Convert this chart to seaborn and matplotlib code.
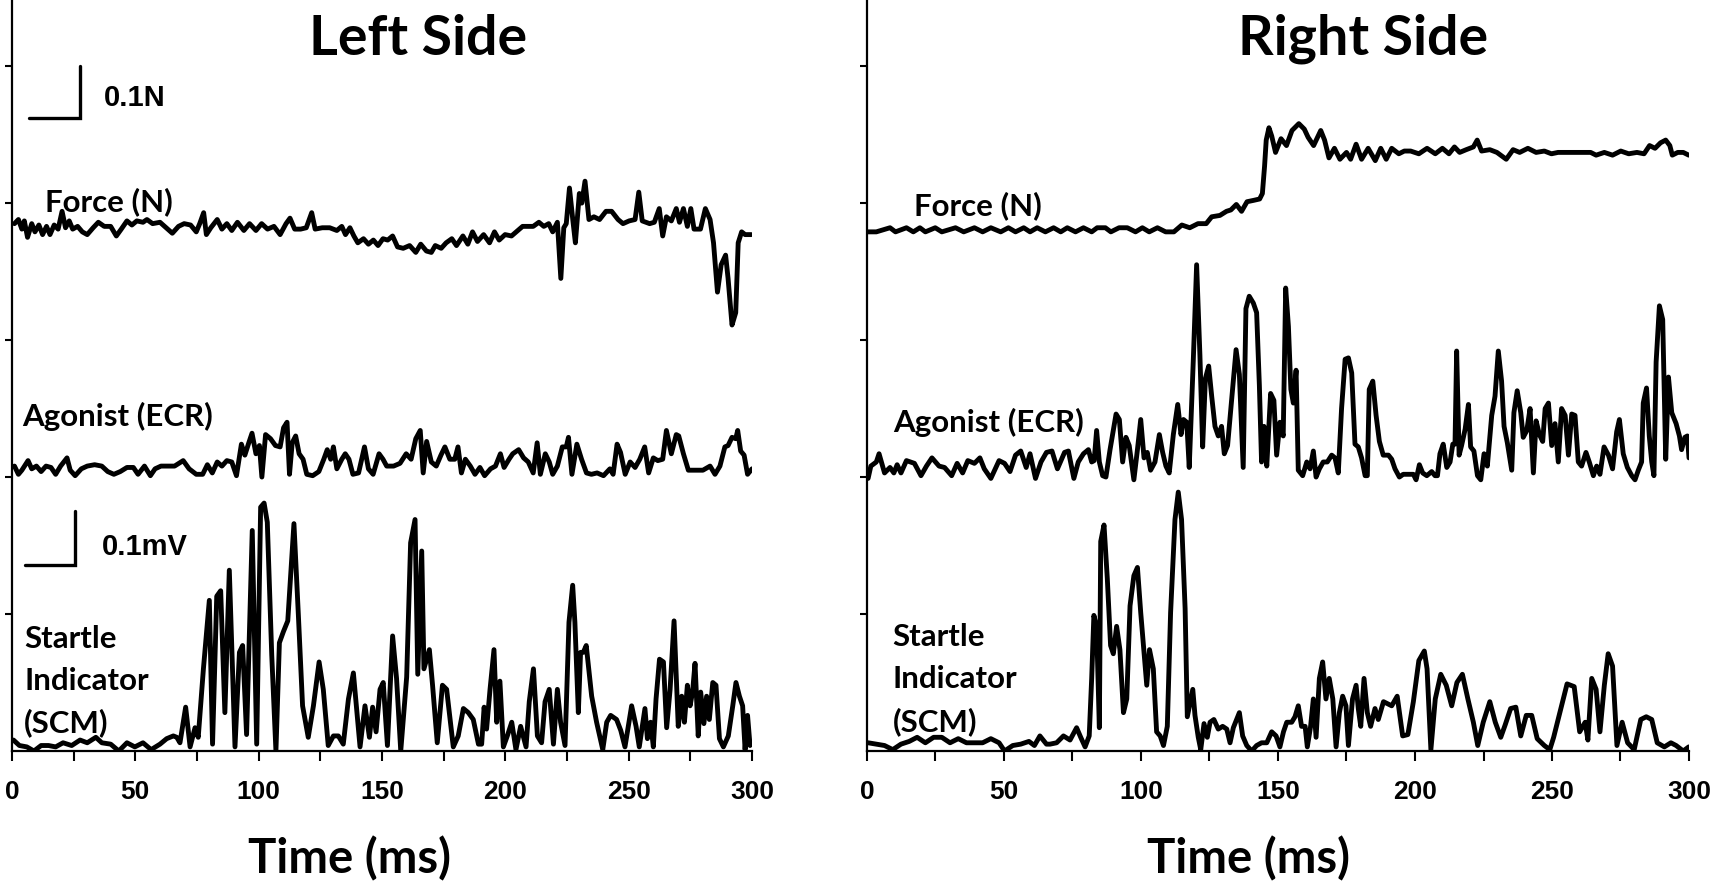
import matplotlib
matplotlib.use("Agg")
import seaborn as sns
from matplotlib import pyplot as plt
from matplotlib.ticker import MultipleLocator

# ---- data (trace values in plot units, one y tick = 1 unit) ----
left_force_t = [1.0, 2.6, 4.0, 5.0, 6.3, 8.0, 9.3, 10.9, 12.4, 14.0, 15.4, 17.1, 18.7, 20.3, 21.7, 23.2, 24.6, 26.6, 28.5, 30.5,
                32.9, 35.0, 37.4, 40.0, 42.3, 44.3, 46.6, 48.6, 50.6, 53.1, 54.7, 57.0, 60.0, 62.5, 65.0, 67.5, 69.8, 72.4, 74.7, 76.1,
                77.7, 78.8, 80.6, 83.2, 85.1, 87.1, 89.1, 91.4, 94.0, 96.3, 98.9, 101.2, 103.6, 106.2, 108.7, 111.1, 112.7, 114.6, 117.0, 119.3,
                121.5, 122.9, 125.8, 128.8, 131.7, 133.7, 135.2, 137.0, 138.6, 140.2, 142.5, 144.5, 146.5, 148.4, 150.4, 152.3, 154.3, 156.3, 158.6, 161.2,
                163.7, 165.7, 168.0, 170.0, 171.6, 174.0, 176.0, 178.3, 180.2, 182.8, 184.8, 186.7, 188.7, 191.2, 193.6, 195.6, 197.5, 199.9, 202.5, 204.4,
                207.0, 209.3, 211.3, 213.6, 215.6, 217.6, 219.2, 221.1, 222.5, 223.7, 224.7, 226.0, 227.4, 228.4, 230.0, 231.0, 232.3, 233.9, 235.9, 238.2,
                240.8, 243.1, 245.7, 247.7, 250.2, 252.6, 254.1, 255.5, 258.5, 260.4, 262.4, 263.8, 265.3, 267.3, 269.3, 270.6, 272.2, 273.8, 275.2, 276.5,
                279.1, 281.1, 283.0, 284.4, 286.0, 287.5, 289.3, 290.3, 291.9, 293.4, 294.4, 295.8, 297.2, 299.7]
left_force_v = [3.85, 3.88, 3.81, 3.87, 3.75, 3.85, 3.79, 3.84, 3.77, 3.83, 3.77, 3.84, 3.81, 3.94, 3.82, 3.87, 3.81, 3.83, 3.79, 3.77,
                3.82, 3.86, 3.83, 3.83, 3.76, 3.81, 3.87, 3.84, 3.87, 3.86, 3.88, 3.85, 3.86, 3.82, 3.78, 3.83, 3.85, 3.84, 3.79, 3.85,
                3.93, 3.77, 3.82, 3.88, 3.81, 3.85, 3.80, 3.86, 3.80, 3.85, 3.80, 3.85, 3.81, 3.83, 3.77, 3.85, 3.89, 3.81, 3.81, 3.82,
                3.93, 3.81, 3.82, 3.82, 3.80, 3.83, 3.77, 3.82, 3.76, 3.71, 3.74, 3.70, 3.73, 3.69, 3.74, 3.73, 3.76, 3.68, 3.67, 3.69,
                3.64, 3.70, 3.65, 3.64, 3.69, 3.67, 3.71, 3.74, 3.69, 3.76, 3.70, 3.79, 3.72, 3.77, 3.71, 3.79, 3.73, 3.77, 3.76, 3.79,
                3.83, 3.83, 3.83, 3.86, 3.83, 3.85, 3.79, 3.86, 3.45, 3.82, 3.85, 4.11, 3.87, 3.71, 4.07, 4.00, 4.16, 3.88, 3.90, 3.88,
                3.94, 3.94, 3.88, 3.85, 3.87, 3.88, 4.08, 3.87, 3.85, 3.86, 3.96, 3.76, 3.90, 3.87, 3.96, 3.86, 3.96, 3.83, 3.96, 3.81,
                3.81, 3.96, 3.88, 3.71, 3.35, 3.55, 3.62, 3.45, 3.11, 3.20, 3.71, 3.79, 3.77, 3.77]

left_agonist_t = [1.0, 2.6, 4.0, 6.5, 8.0, 9.9, 11.8, 13.8, 15.8, 17.7, 19.7, 22.3, 23.6, 25.6, 28.1, 30.5, 33.5, 36.4, 38.8, 41.3,
                  43.9, 46.6, 49.2, 51.1, 53.7, 56.1, 58.0, 60.4, 62.9, 65.9, 69.4, 71.8, 74.7, 77.3, 79.2, 81.2, 83.2, 85.1, 87.1, 89.1,
                  91.0, 93.0, 94.4, 96.0, 97.3, 98.9, 100.3, 101.3, 102.8, 104.8, 106.8, 108.7, 110.1, 111.5, 112.5, 113.6, 115.0, 116.4, 118.0, 119.5,
                  121.9, 124.4, 126.4, 127.8, 129.2, 130.3, 131.7, 133.7, 135.1, 136.6, 138.2, 140.5, 142.9, 144.5, 146.4, 148.8, 150.4, 151.9, 154.7, 157.3,
                  159.8, 161.8, 163.7, 165.5, 166.7, 168.1, 170.0, 172.0, 173.9, 175.5, 177.5, 179.5, 180.8, 182.2, 183.8, 185.8, 187.7, 189.7, 191.6, 194.0,
                  196.0, 198.0, 199.5, 201.5, 203.0, 205.4, 207.4, 209.3, 211.3, 212.9, 214.2, 216.2, 217.8, 219.2, 221.1, 223.1, 224.7, 225.6, 227.0, 229.0,
                  230.9, 232.9, 234.9, 237.2, 239.8, 242.4, 243.7, 245.3, 246.7, 248.6, 250.6, 252.6, 254.5, 256.5, 258.1, 260.0, 261.8, 263.8, 265.3, 267.3,
                  269.3, 270.3, 272.2, 274.2, 277.1, 280.1, 283.0, 285.0, 287.0, 289.0, 290.3, 291.9, 293.4, 294.2, 295.4, 296.8, 298.2, 300.0]
left_agonist_v = [2.08, 2.02, 2.05, 2.12, 2.06, 2.08, 2.04, 2.08, 2.07, 2.02, 2.08, 2.14, 2.05, 2.01, 2.06, 2.08, 2.09, 2.08, 2.04, 2.02,
                  2.04, 2.07, 2.07, 2.02, 2.08, 2.01, 2.06, 2.08, 2.08, 2.08, 2.12, 2.06, 2.02, 2.02, 2.09, 2.03, 2.11, 2.08, 2.12, 2.11,
                  2.01, 2.24, 2.16, 2.25, 2.32, 2.17, 2.23, 2.00, 2.31, 2.28, 2.23, 2.22, 2.36, 2.40, 2.02, 2.25, 2.30, 2.17, 2.13, 2.02,
                  2.01, 2.04, 2.13, 2.20, 2.13, 2.22, 2.06, 2.13, 2.17, 2.13, 2.02, 2.03, 2.22, 2.06, 2.02, 2.17, 2.13, 2.08, 2.08, 2.10,
                  2.17, 2.13, 2.28, 2.34, 2.03, 2.26, 2.11, 2.08, 2.16, 2.22, 2.13, 2.13, 2.22, 2.03, 2.13, 2.08, 2.02, 2.07, 2.01, 2.06,
                  2.08, 2.17, 2.07, 2.13, 2.17, 2.20, 2.14, 2.11, 2.03, 2.25, 2.02, 2.17, 2.11, 2.02, 2.08, 2.22, 2.22, 2.29, 2.02, 2.24,
                  2.13, 2.03, 2.02, 2.03, 2.01, 2.06, 2.02, 2.24, 2.18, 2.02, 2.11, 2.07, 2.13, 2.22, 2.03, 2.14, 2.12, 2.13, 2.34, 2.17,
                  2.31, 2.30, 2.17, 2.05, 2.05, 2.05, 2.08, 2.02, 2.08, 2.22, 2.23, 2.29, 2.28, 2.34, 2.19, 2.16, 2.02, 2.06]

left_startle_t = [0.6, 3.0, 6.0, 8.9, 11.8, 14.8, 17.7, 20.7, 24.2, 27.6, 30.5, 34.0, 36.4, 40.0, 43.3, 46.6, 49.8, 53.1, 56.4, 60.0,
                  62.7, 65.4, 66.8, 68.1, 70.4, 72.2, 74.2, 75.5, 77.6, 80.0, 81.3, 83.0, 84.6, 86.3, 88.1, 90.4, 92.2, 93.5, 95.1, 97.4,
                  99.2, 100.8, 102.2, 103.5, 105.3, 107.0, 108.4, 110.0, 111.8, 114.3, 116.1, 117.8, 120.1, 122.2, 124.5, 126.2, 128.2, 130.3, 132.3, 134.3,
                  136.4, 138.4, 141.1, 143.1, 144.9, 146.2, 147.6, 149.2, 150.5, 152.2, 154.3, 155.9, 157.6, 160.0, 161.6, 163.4, 164.5, 166.1, 167.0, 169.2,
                  170.5, 172.4, 174.5, 176.2, 178.9, 180.9, 183.0, 185.0, 187.0, 189.1, 190.4, 191.4, 192.4, 193.8, 195.4, 196.5, 197.8, 199.2, 200.8, 202.6,
                  204.3, 206.2, 208.4, 209.7, 211.4, 213.0, 214.7, 216.1, 217.8, 219.5, 221.1, 222.4, 224.2, 225.8, 227.3, 228.2, 229.6, 230.5, 231.6, 232.8,
                  235.0, 237.0, 239.5, 241.1, 242.7, 245.1, 246.8, 248.5, 251.2, 253.0, 254.3, 256.6, 257.6, 258.9, 260.0, 261.1, 262.5, 264.1, 265.4, 266.8,
                  268.4, 270.1, 271.5, 272.6, 273.8, 274.9, 275.9, 276.9, 278.2, 279.2, 280.5, 281.6, 282.7, 284.1, 285.4, 286.8, 288.4, 290.4, 292.2, 293.5,
                  294.9, 296.2, 297.2, 298.2, 299.2, 300.0]
left_startle_v = [0.08, 0.04, 0.03, 0.00, 0.04, 0.04, 0.03, 0.06, 0.04, 0.08, 0.06, 0.10, 0.06, 0.05, 0.00, 0.06, 0.03, 0.06, 0.01, 0.05,
                  0.09, 0.11, 0.10, 0.06, 0.32, 0.03, 0.17, 0.10, 0.60, 1.10, 0.05, 1.13, 1.17, 0.28, 1.32, 0.03, 0.72, 0.77, 0.12, 1.61,
                  0.05, 1.78, 1.81, 1.67, 0.70, 0.00, 0.79, 0.87, 0.95, 1.66, 0.99, 0.33, 0.10, 0.33, 0.65, 0.45, 0.04, 0.11, 0.11, 0.05,
                  0.38, 0.57, 0.03, 0.33, 0.10, 0.32, 0.14, 0.45, 0.50, 0.04, 0.84, 0.53, 0.00, 0.54, 1.52, 1.69, 0.56, 1.46, 0.60, 0.74,
                  0.48, 0.06, 0.48, 0.45, 0.03, 0.11, 0.31, 0.28, 0.23, 0.05, 0.05, 0.32, 0.16, 0.45, 0.74, 0.21, 0.51, 0.03, 0.11, 0.21,
                  0.01, 0.18, 0.03, 0.36, 0.60, 0.11, 0.06, 0.36, 0.45, 0.05, 0.45, 0.21, 0.04, 0.94, 1.21, 0.94, 0.28, 0.72, 0.72, 0.77,
                  0.40, 0.21, 0.01, 0.21, 0.26, 0.23, 0.15, 0.03, 0.33, 0.18, 0.03, 0.31, 0.09, 0.21, 0.03, 0.38, 0.67, 0.65, 0.17, 0.45,
                  0.95, 0.18, 0.40, 0.21, 0.48, 0.33, 0.43, 0.64, 0.11, 0.43, 0.20, 0.40, 0.23, 0.50, 0.48, 0.09, 0.03, 0.11, 0.33, 0.50,
                  0.40, 0.33, 0.01, 0.26, 0.04, 0.06]

right_force_t = [0.4, 3.4, 8.4, 10.4, 14.4, 16.9, 19.3, 21.3, 24.9, 27.3, 32.3, 35.3, 39.2, 42.2, 45.2, 48.8, 51.6, 54.2, 57.2, 59.5,
                 62.1, 65.1, 68.1, 70.7, 73.1, 76.1, 79.0, 82.0, 84.0, 87.0, 89.0, 92.0, 95.0, 98.0, 100.5, 103.0, 106.0, 109.0, 112.0, 114.9,
                 117.8, 120.8, 123.8, 125.8, 128.8, 131.2, 132.8, 134.8, 136.7, 138.7, 141.1, 143.3, 144.3, 145.1, 145.7, 146.7, 147.7, 149.1, 151.1, 153.1,
                 155.1, 157.6, 159.6, 161.0, 163.0, 165.6, 167.0, 168.6, 170.6, 172.6, 175.0, 176.5, 178.5, 180.5, 182.9, 185.5, 187.5, 189.5, 191.5, 194.1,
                 196.1, 198.4, 201.4, 204.4, 207.4, 210.0, 212.4, 214.4, 216.3, 218.7, 221.3, 222.7, 224.3, 227.3, 229.9, 233.3, 235.8, 238.2, 241.2, 244.2,
                 247.2, 249.8, 252.2, 256.1, 260.1, 264.1, 266.1, 269.1, 272.1, 275.1, 278.0, 281.0, 283.6, 285.6, 287.6, 289.6, 291.5, 293.0, 293.9, 295.9,
                 297.9, 299.9]
right_force_v = [3.79, 3.79, 3.82, 3.79, 3.82, 3.79, 3.82, 3.79, 3.82, 3.79, 3.82, 3.79, 3.82, 3.79, 3.82, 3.79, 3.82, 3.79, 3.82, 3.79,
                 3.82, 3.79, 3.82, 3.79, 3.82, 3.79, 3.82, 3.79, 3.82, 3.82, 3.79, 3.82, 3.82, 3.79, 3.82, 3.79, 3.82, 3.79, 3.79, 3.84,
                 3.82, 3.85, 3.85, 3.90, 3.91, 3.94, 3.95, 3.99, 3.94, 4.01, 4.02, 4.03, 4.07, 4.27, 4.46, 4.55, 4.49, 4.37, 4.47, 4.42,
                 4.53, 4.58, 4.54, 4.48, 4.42, 4.53, 4.46, 4.33, 4.40, 4.32, 4.37, 4.32, 4.43, 4.32, 4.40, 4.31, 4.40, 4.32, 4.40, 4.36,
                 4.38, 4.38, 4.36, 4.40, 4.36, 4.40, 4.36, 4.41, 4.37, 4.39, 4.41, 4.46, 4.38, 4.39, 4.37, 4.32, 4.39, 4.37, 4.40, 4.37,
                 4.38, 4.36, 4.37, 4.37, 4.37, 4.37, 4.35, 4.37, 4.35, 4.38, 4.36, 4.37, 4.36, 4.42, 4.40, 4.44, 4.46, 4.42, 4.35, 4.37,
                 4.37, 4.35]

right_agonist_t = [0.4, 1.4, 3.4, 4.4, 6.4, 8.4, 9.8, 11.0, 12.4, 14.4, 17.3, 19.7, 21.7, 23.7, 26.3, 28.3, 30.9, 32.9, 34.9, 36.8,
                   39.2, 41.2, 42.8, 45.2, 48.2, 50.2, 52.2, 54.2, 56.1, 58.1, 59.5, 61.5, 63.5, 65.5, 67.5, 69.5, 72.1, 73.5, 75.5, 77.1,
                   79.0, 80.8, 82.0, 82.9, 83.8, 84.8, 86.0, 87.2, 88.7, 90.9, 92.1, 93.3, 94.5, 95.7, 97.4, 98.7, 99.9, 101.1, 102.3, 103.5,
                   105.1, 106.7, 107.9, 109.1, 110.3, 111.8, 113.4, 114.6, 115.5, 116.7, 117.6, 119.1, 120.3, 121.5, 122.5, 123.5, 124.7, 125.8, 127.0, 128.2,
                   129.4, 130.4, 131.6, 133.1, 134.7, 135.9, 137.3, 138.3, 139.5, 141.0, 142.2, 143.2, 144.0, 144.9, 145.9, 147.3, 148.5, 149.5, 150.7, 151.9,
                   152.8, 153.8, 154.7, 155.6, 156.6, 157.4, 159.0, 160.5, 161.7, 162.9, 163.9, 165.1, 166.5, 168.0, 169.6, 170.8, 172.0, 173.2, 174.5, 175.7,
                   176.9, 178.1, 179.3, 180.5, 181.8, 182.6, 183.3, 184.6, 185.8, 187.0, 188.4, 190.3, 191.5, 192.7, 194.3, 195.7, 198.2, 199.4, 200.4, 201.6,
                   202.8, 204.3, 206.1, 207.3, 208.2, 209.1, 210.3, 211.6, 212.8, 213.8, 214.6, 215.2, 216.1, 217.0, 218.3, 219.5, 220.3, 221.5, 222.8, 224.0,
                   225.2, 226.4, 228.0, 229.2, 230.4, 231.6, 232.5, 233.7, 235.3, 236.1, 237.3, 238.6, 239.5, 240.8, 242.0, 243.2, 244.2, 245.4, 246.6, 247.5,
                   248.7, 249.9, 251.1, 252.3, 253.5, 254.8, 256.0, 257.2, 258.4, 259.6, 260.8, 262.4, 263.6, 265.1, 266.3, 267.5, 269.0, 270.6, 272.1, 273.6,
                   274.6, 276.0, 277.5, 279.1, 280.3, 281.5, 282.7, 283.3, 284.5, 285.5, 286.4, 287.2, 288.0, 289.2, 290.4, 291.5, 292.5, 293.7, 295.3, 296.5,
                   297.3, 298.5, 299.4, 300.0]
right_agonist_v = [1.99, 2.08, 2.11, 2.17, 2.03, 2.07, 2.03, 2.09, 2.03, 2.12, 2.10, 2.01, 2.08, 2.14, 2.08, 2.07, 2.01, 2.10, 2.03, 2.12,
                   2.10, 2.14, 2.06, 1.99, 2.12, 2.10, 2.04, 2.16, 2.19, 2.07, 2.17, 1.99, 2.11, 2.18, 2.19, 2.06, 2.18, 2.19, 1.99, 2.11,
                   2.17, 2.20, 2.11, 2.12, 2.34, 2.11, 2.01, 2.00, 2.20, 2.46, 2.42, 2.11, 2.29, 2.23, 1.98, 2.20, 2.42, 2.14, 2.18, 2.05,
                   2.11, 2.31, 2.18, 2.08, 2.03, 2.31, 2.53, 2.31, 2.42, 2.40, 2.07, 2.86, 3.55, 2.89, 2.22, 2.72, 2.81, 2.59, 2.37, 2.30,
                   2.37, 2.17, 2.23, 2.57, 2.93, 2.75, 2.07, 3.23, 3.32, 3.27, 3.20, 2.67, 2.11, 2.37, 2.08, 2.61, 2.56, 2.16, 2.40, 2.30,
                   3.38, 3.10, 2.64, 2.54, 2.78, 2.05, 2.01, 2.11, 2.06, 2.19, 2.00, 2.06, 2.11, 2.11, 2.16, 2.14, 2.03, 2.50, 2.86, 2.87,
                   2.76, 2.24, 2.22, 2.14, 2.01, 2.01, 2.64, 2.70, 2.45, 2.26, 2.16, 2.16, 2.13, 2.06, 2.00, 2.02, 2.02, 2.02, 1.98, 2.09,
                   2.03, 2.01, 2.04, 2.01, 2.01, 2.17, 2.24, 2.07, 2.11, 2.24, 2.24, 2.92, 2.16, 2.23, 2.35, 2.53, 2.22, 2.19, 2.01, 1.98,
                   2.17, 2.08, 2.45, 2.59, 2.92, 2.70, 2.37, 2.25, 2.05, 2.47, 2.63, 2.47, 2.29, 2.34, 2.50, 2.03, 2.41, 2.31, 2.26, 2.50,
                   2.54, 2.23, 2.39, 2.11, 2.50, 2.45, 2.16, 2.46, 2.45, 2.11, 2.08, 2.18, 2.11, 2.01, 2.08, 2.02, 2.22, 2.16, 2.06, 2.33,
                   2.42, 2.17, 2.07, 2.01, 1.98, 2.05, 2.11, 2.54, 2.65, 2.30, 2.11, 2.01, 2.84, 3.25, 3.15, 2.13, 2.73, 2.47, 2.39, 2.30,
                   2.20, 2.29, 2.30, 2.14]

right_startle_t = [0.4, 3.4, 6.4, 9.4, 12.4, 15.4, 18.3, 21.3, 24.3, 27.3, 30.3, 33.3, 36.3, 39.2, 42.2, 45.2, 48.2, 50.2, 53.2, 56.1,
                   59.1, 61.1, 63.1, 65.5, 66.8, 69.2, 71.7, 74.1, 76.5, 78.0, 79.6, 81.1, 82.0, 82.8, 83.8, 84.8, 85.3, 86.5, 87.7, 88.9,
                   89.9, 91.1, 92.3, 93.6, 94.8, 96.0, 97.4, 98.7, 99.9, 101.1, 102.1, 103.1, 104.5, 105.7, 107.0, 108.2, 109.6, 110.8, 112.4, 113.6,
                   114.8, 116.1, 116.9, 117.9, 118.9, 119.7, 120.9, 121.8, 123.0, 124.2, 125.2, 126.6, 128.2, 129.8, 131.3, 132.5, 133.7, 134.9, 135.9, 137.1,
                   138.6, 140.4, 142.2, 144.0, 145.9, 147.7, 149.3, 150.7, 152.0, 153.2, 155.0, 156.2, 157.4, 158.6, 159.9, 160.7, 161.9, 162.9, 163.9, 165.1,
                   166.3, 167.5, 168.7, 170.0, 171.2, 172.4, 173.6, 174.8, 175.7, 177.2, 178.5, 179.3, 180.2, 181.4, 182.6, 183.8, 185.4, 186.6, 188.5, 191.5,
                   193.5, 195.5, 197.4, 199.4, 201.4, 203.4, 204.4, 205.8, 207.4, 209.4, 211.4, 213.4, 215.3, 217.3, 219.3, 221.3, 222.9, 224.9, 227.3, 229.3,
                   231.3, 232.9, 234.9, 236.8, 238.6, 240.6, 242.6, 244.6, 247.2, 249.2, 250.6, 252.6, 255.5, 258.1, 260.1, 262.1, 263.1, 264.5, 266.1, 267.5,
                   269.1, 270.5, 272.1, 273.7, 275.6, 277.6, 280.0, 282.4, 284.4, 286.4, 288.4, 291.0, 293.4, 295.3, 297.9, 299.9]
right_startle_v = [0.06, 0.05, 0.04, 0.01, 0.05, 0.07, 0.10, 0.06, 0.10, 0.10, 0.06, 0.09, 0.06, 0.06, 0.06, 0.09, 0.06, 0.00, 0.04, 0.05,
                   0.07, 0.04, 0.11, 0.05, 0.05, 0.06, 0.11, 0.08, 0.17, 0.10, 0.03, 0.11, 0.53, 0.99, 0.91, 0.17, 1.53, 1.65, 1.26, 0.77,
                   0.71, 0.91, 0.74, 0.28, 0.38, 1.06, 1.28, 1.34, 1.01, 0.72, 0.48, 0.74, 0.60, 0.14, 0.11, 0.04, 0.18, 1.01, 1.69, 1.89,
                   1.69, 1.04, 0.25, 0.35, 0.45, 0.26, 0.10, 0.01, 0.20, 0.10, 0.21, 0.23, 0.16, 0.18, 0.16, 0.06, 0.17, 0.23, 0.28, 0.11,
                   0.04, 0.00, 0.04, 0.06, 0.06, 0.14, 0.11, 0.03, 0.14, 0.21, 0.21, 0.25, 0.33, 0.18, 0.18, 0.03, 0.18, 0.38, 0.10, 0.53,
                   0.65, 0.38, 0.53, 0.38, 0.03, 0.28, 0.40, 0.33, 0.04, 0.38, 0.48, 0.31, 0.18, 0.53, 0.28, 0.18, 0.31, 0.23, 0.36, 0.33,
                   0.40, 0.11, 0.12, 0.36, 0.66, 0.73, 0.60, 0.01, 0.38, 0.56, 0.48, 0.33, 0.50, 0.56, 0.38, 0.21, 0.04, 0.21, 0.36, 0.21,
                   0.10, 0.19, 0.31, 0.32, 0.11, 0.26, 0.26, 0.09, 0.04, 0.01, 0.10, 0.26, 0.49, 0.47, 0.14, 0.21, 0.08, 0.53, 0.45, 0.14,
                   0.48, 0.71, 0.62, 0.04, 0.21, 0.06, 0.01, 0.23, 0.25, 0.23, 0.06, 0.03, 0.06, 0.04, 0.00, 0.03]

x_ticks = [0, 50, 100, 150, 200, 250, 300]
panel_titles = ["Left Side", "Right Side"]

# ---- style ----
sns.set_style("ticks")
plt.rcParams.update({
    "lines.solid_joinstyle": "round",
    "text.color": "black",
    "axes.labelcolor": "black",
    "axes.edgecolor": "black",
    "xtick.color": "black",
    "ytick.color": "black",
})
label_font = ["Lato", "DejaVu Sans"]
tick_font = ["Liberation Sans", "DejaVu Sans"]

W, H = 1715, 887
fig = plt.figure(figsize=(W / 100, H / 100), dpi=100)
ax_l = fig.add_axes([12 / W, 135 / H, 740 / W, 752 / H])
ax_r = fig.add_axes([867 / W, 135 / H, 822 / W, 752 / H])

panels = [
    (ax_l, [(left_force_t, left_force_v), (left_agonist_t, left_agonist_v), (left_startle_t, left_startle_v)]),
    (ax_r, [(right_force_t, right_force_v), (right_agonist_t, right_agonist_v), (right_startle_t, right_startle_v)]),
]

for ax, traces in panels:
    for t, v in traces:
        sns.lineplot(x=t, y=v, ax=ax, color="black", linewidth=3.5, sort=False, estimator=None)

    ax.set_xlim(0, 300)
    ax.set_ylim(0, 5.49)
    sns.despine(ax=ax)
    for side in ["left", "bottom"]:
        ax.spines[side].set_linewidth(1.6)
        ax.spines[side].set_color("black")
    ax.set_xticks(x_ticks)
    ax.xaxis.set_minor_locator(MultipleLocator(25))
    ax.set_xticklabels([str(x) for x in x_ticks], fontfamily=tick_font, fontweight="bold",
                       fontsize=19, color="black")
    ax.set_yticks([1, 2, 3, 4, 5])
    ax.set_yticklabels([])
    ax.tick_params(axis="x", which="both", direction="out", length=7, width=1.5, pad=13, color="black")
    ax.tick_params(axis="y", direction="out", length=5, width=1.5, color="black")
    ax.set_xlabel("")
    ax.set_ylabel("")

# scale bars
ax_l.plot([6.9, 27.6, 27.6], [4.62, 4.62, 5.0], color="black", linewidth=2.4, solid_joinstyle="miter")
ax_l.text(37.3, 4.715, "0.1N", fontfamily=tick_font, fontweight="bold", fontsize=21, va="baseline")
ax_l.plot([5.4, 25.6, 25.6], [1.36, 1.36, 1.75], color="black", linewidth=2.4, solid_joinstyle="miter")
ax_l.text(36.4, 1.438, "0.1mV", fontfamily=tick_font, fontweight="bold", fontsize=21, va="baseline")

# trace labels
lab = dict(fontfamily=label_font, fontweight="bold", fontsize=22.5, va="baseline", color="black")
ax_l.text(13.2, 3.95, "Force (N)", **lab)
ax_l.text(4.0, 2.38, "Agonist (ECR)", **lab)
for txt, y in zip(["Startle", "Indicator", "(SCM)"], [0.759, 0.453, 0.146]):
    ax_l.text(4.9, y, txt, **lab)

ax_r.text(17.0, 3.92, "Force (N)", **lab)
ax_r.text(9.4, 2.336, "Agonist (ECR)", **lab)
for txt, y in zip(["Startle", "Indicator", "(SCM)"], [0.774, 0.467, 0.153]):
    ax_r.text(9.4, y, txt, **lab)

# titles and x labels
for xc, title in zip([418 / W, 1363 / W], panel_titles):
    fig.text(xc, 1 - 55 / H, title, ha="center", va="baseline", color="black",
             fontfamily=label_font, fontweight="bold", fontsize=40)
for xc in [350 / W, 1249 / W]:
    fig.text(xc, 1 - 873 / H, "Time (ms)", ha="center", va="baseline", color="black",
             fontfamily=label_font, fontweight="bold", fontsize=34)

fig.savefig("out.png", dpi=100)
plt.close(fig)
